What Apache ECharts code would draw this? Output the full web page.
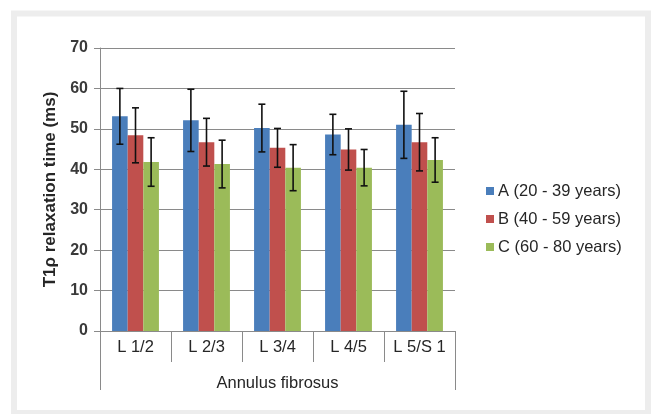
<!DOCTYPE html>
<html>
<head>
<meta charset="utf-8">
<script src="https://cdn.jsdelivr.net/npm/echarts@6/dist/echarts.min.js"></script>
<style>
html,body{margin:0;padding:0;background:#fff;}
#chart{width:651px;height:414px;}
</style>
</head>
<body>
<div id="chart"></div>
<script>
const categories = ['L 1/2', 'L 2/3', 'L 3/4', 'L 4/5', 'L 5/S 1'];
const groupLabel = ['Annulus fibrosus'];
const seriesNames = ['A (20 - 39 years)', 'B (40 - 59 years)', 'C (60 - 80 years)'];
const meanA = [53.1, 52.1, 50.2, 48.6, 51.0];
const sdA   = [6.9, 7.7, 5.9, 5.0, 8.3];
const meanB = [48.4, 46.7, 45.3, 44.9, 46.7];
const sdB   = [6.8, 5.9, 4.8, 5.1, 7.1];
const meanC = [41.8, 41.3, 40.4, 40.4, 42.3];
const sdC   = [6.0, 5.9, 5.7, 4.5, 5.5];
const colors = ['#4a7ebb', '#c0504d', '#9bbb59'];

const means = [meanA, meanB, meanC];
const sds = [sdA, sdB, sdC];
const CAT_GAP = 0.34;

const chart = echarts.init(document.getElementById('chart'));

function barSeries(i) {
  return {
    type: 'bar', name: seriesNames[i], data: means[i],
    itemStyle: { color: colors[i] },
    barGap: '0%', barCategoryGap: (CAT_GAP * 100) + '%',
    xAxisIndex: 0, yAxisIndex: 0, z: 2
  };
}
function errSeries(i) {
  return {
    type: 'custom', name: 'err' + i, xAxisIndex: 0, yAxisIndex: 0, z: 5,
    silent: true,
    data: categories.map((c, k) => [k, means[i][k] + sds[i][k], means[i][k] - sds[i][k]]),
    renderItem: function (params, api) {
      const k = api.value(0);
      const hi = api.coord([k, api.value(1)]);
      const lo = api.coord([k, api.value(2)]);
      const bw = api.size([1, 0])[0];
      const barW = bw * (1 - CAT_GAP) / 3;
      const x = hi[0] + (i - 1) * barW;
      const cap = 3.5;
      const st = { stroke: '#111111', lineWidth: 1.6 };
      return {
        type: 'group', children: [
          { type: 'line', shape: { x1: x, y1: hi[1], x2: x, y2: lo[1] }, style: st },
          { type: 'line', shape: { x1: x - cap, y1: hi[1], x2: x + cap, y2: hi[1] }, style: st },
          { type: 'line', shape: { x1: x - cap, y1: lo[1], x2: x + cap, y2: lo[1] }, style: st }
        ]
      };
    }
  };
}

chart.setOption({
  backgroundColor: '#ffffff',
  animation: false,
  graphic: [{
    type: 'rect', z: -10, silent: true,
    shape: { x: 14, y: 13.5, width: 634, height: 399.5 },
    style: { fill: '#ffffff', stroke: '#ededed', lineWidth: 6 }
  }],
  grid: { left: 100, right: 196, top: 48, bottom: 83, containLabel: false },
  legend: {
    data: seriesNames, orient: 'vertical', left: 481, top: 177,
    itemWidth: 8, itemHeight: 8, itemGap: 10, icon: 'rect',
    textStyle: { fontFamily: 'Liberation Sans', fontSize: 16.5, color: '#262626', lineHeight: 18, padding: [0, 0, 0, -1] }
  },
  xAxis: [{
    type: 'category', data: categories, position: 'bottom',
    axisLine: { lineStyle: { color: '#8a8a8a', width: 1 } },
    axisTick: { show: true, length: 31, lineStyle: { color: '#8a8a8a' } },
    axisLabel: { fontFamily: 'Liberation Sans', fontSize: 16.5, color: '#262626', margin: 8 }
  }, {
    type: 'category', data: groupLabel, position: 'bottom', offset: 31,
    gridIndex: 0,
    axisLine: { show: false },
    axisTick: { show: true, length: 28, lineStyle: { color: '#8a8a8a' } },
    axisLabel: { fontFamily: 'Liberation Sans', fontSize: 16.5, color: '#262626', margin: 13 }
  }],
  yAxis: {
    type: 'value', min: 0, max: 70, interval: 10,
    name: 'T1ρ relaxation time (ms)', nameLocation: 'middle', nameGap: 38, nameRotate: 90,
    nameTextStyle: { fontFamily: 'Liberation Sans', fontSize: 17, fontWeight: 'bold', color: '#262626' },
    axisLine: { show: true, lineStyle: { color: '#8a8a8a' } },
    axisTick: { show: true, length: 6, lineStyle: { color: '#8a8a8a' } },
    splitLine: { lineStyle: { color: '#8a8a8a', width: 1 } },
    axisLabel: { fontFamily: 'Liberation Sans', fontSize: 16, fontWeight: 'bold', color: '#3a3a3a', margin: 12 }
  },
  series: [barSeries(0), barSeries(1), barSeries(2), errSeries(0), errSeries(1), errSeries(2)]
});
</script>
</body>
</html>
